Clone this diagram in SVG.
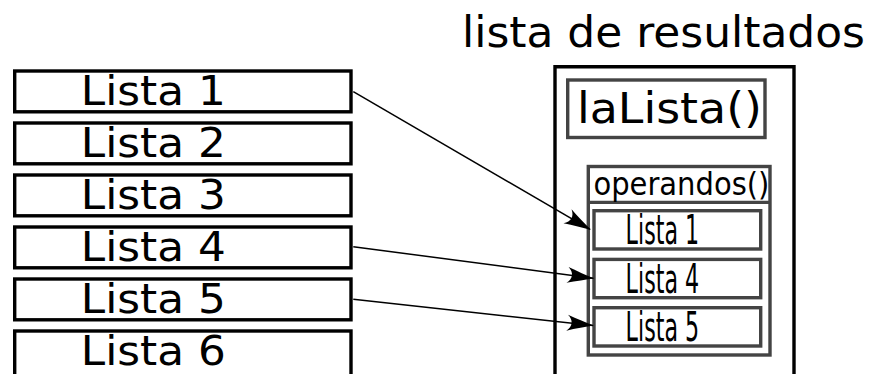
<svg xmlns="http://www.w3.org/2000/svg" width="878" height="374" viewBox="0 0 878 374">
  <style>
    .src { fill: #fff; stroke: #000; stroke-width: 3.4; }
    .srcText { font-family: "DejaVu Sans", Verdana, sans-serif; font-size: 41.5px; fill: #000; }
    .frame { fill: none; stroke: #000; stroke-width: 3.4; }
    .gbox { fill: #fff; stroke: #444; stroke-width: 3.4; }
    .big { font-family: "DejaVu Sans", Verdana, sans-serif; font-size: 42px; fill: #000; }
    .method { font-family: "DejaVu Sans", Verdana, sans-serif; font-size: 43px; fill: #000; }
    .op { font-family: "DejaVu Sans", Verdana, sans-serif; font-size: 32.5px; fill: #000; }
    .cond { font-family: "DejaVu Sans", Verdana, sans-serif; font-size: 40px; fill: #000; }
    .conn { fill: none; stroke: #000; stroke-width: 1.5; }
  </style>
  <defs>
    <marker id="head" markerUnits="userSpaceOnUse" markerWidth="30" markerHeight="20" viewBox="-28 -10 30 20" refX="0" refY="0" orient="auto" overflow="visible">
      <path d="M1,0 C-7,-2 -17,-5 -26,-8 C-20,-3 -20,3 -26,8 C-17,5 -7,2 1,0 Z" fill="#000"/>
    </marker>
  </defs>

  <!-- source lists -->
  <g id="lista1"><rect class="src" x="14.7" y="71" width="336.3" height="40.8"/><text class="srcText" x="80.8" y="105.3" textLength="145" lengthAdjust="spacingAndGlyphs">Lista 1</text></g>
  <g id="lista2"><rect class="src" x="14.7" y="123" width="336.3" height="40.8"/><text class="srcText" x="80.8" y="157.3" textLength="145" lengthAdjust="spacingAndGlyphs">Lista 2</text></g>
  <g id="lista3"><rect class="src" x="14.7" y="175" width="336.3" height="40.8"/><text class="srcText" x="80.8" y="209.3" textLength="145" lengthAdjust="spacingAndGlyphs">Lista 3</text></g>
  <g id="lista4"><rect class="src" x="14.7" y="227" width="336.3" height="40.8"/><text class="srcText" x="80.8" y="261.3" textLength="145" lengthAdjust="spacingAndGlyphs">Lista 4</text></g>
  <g id="lista5"><rect class="src" x="14.7" y="279" width="336.3" height="40.8"/><text class="srcText" x="80.8" y="313.3" textLength="145" lengthAdjust="spacingAndGlyphs">Lista 5</text></g>
  <g id="lista6"><rect class="src" x="14.7" y="331" width="336.3" height="60"/><text class="srcText" x="80.8" y="365.3" textLength="145" lengthAdjust="spacingAndGlyphs">Lista 6</text></g>

  <!-- result list -->
  <g id="resultados">
    <text class="big" x="462" y="46.7" textLength="403" lengthAdjust="spacingAndGlyphs">lista de resultados</text>
    <path class="frame" d="M555,380 V66.7 H794 V380"/>
  </g>
  <g id="laLista">
    <rect class="gbox" x="567.7" y="80" width="197.3" height="57.5"/>
    <text class="method" x="577" y="123.3" textLength="185" lengthAdjust="spacingAndGlyphs">laLista()</text>
  </g>
  <g id="operandos">
    <rect class="gbox" x="588.3" y="166.5" width="181.7" height="188.5" stroke-width="4.4"/>
    <line x1="588.3" y1="202.3" x2="770" y2="202.3" stroke="#444" stroke-width="3.2"/>
    <text class="op" x="593.4" y="195" textLength="176" lengthAdjust="spacingAndGlyphs">operandos()</text>
  </g>
  <g id="op1">
    <rect class="gbox" x="594" y="210.7" width="166.7" height="38.3"/>
    <text class="cond" x="625.6" y="244.3" textLength="73.6" lengthAdjust="spacingAndGlyphs">Lista 1</text>
  </g>
  <g id="op4">
    <rect class="gbox" x="594" y="259.4" width="166.7" height="38.3"/>
    <text class="cond" x="625.6" y="292.8" textLength="73.6" lengthAdjust="spacingAndGlyphs">Lista 4</text>
  </g>
  <g id="op5">
    <rect class="gbox" x="594" y="307.7" width="166.7" height="38.3"/>
    <text class="cond" x="625.6" y="341.3" textLength="73.6" lengthAdjust="spacingAndGlyphs">Lista 5</text>
  </g>

  <!-- connectors -->
  <g id="connectors">
    <line class="conn" x1="353.3" y1="91.7" x2="590" y2="229.3" marker-end="url(#head)"/>
    <line class="conn" x1="353.3" y1="246.7" x2="593.3" y2="278.3" marker-end="url(#head)"/>
    <line class="conn" x1="353.3" y1="299.3" x2="593" y2="325.5" marker-end="url(#head)"/>
  </g>
</svg>
